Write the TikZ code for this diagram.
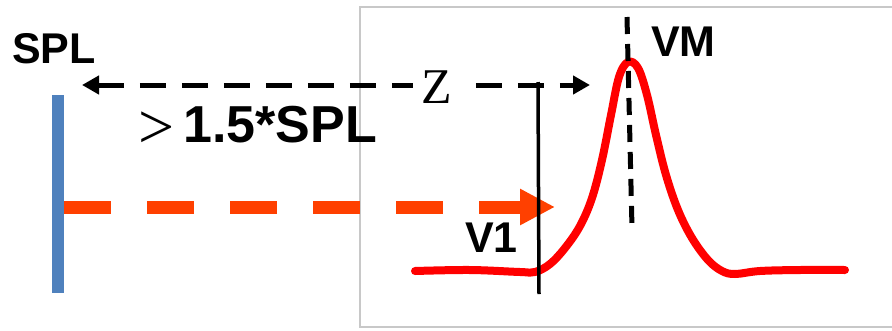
\documentclass[tikz,border=0pt]{standalone}
\usepackage{fontspec}
\setmainfont{Liberation Sans}
\newfontfamily\serifz{Liberation Serif}
\usetikzlibrary{arrows.meta}
\definecolor{splblue}{HTML}{4F81BD}
\definecolor{pulsered}{HTML}{FF0000}
\definecolor{beamorange}{HTML}{FF4000}
\definecolor{boxgray}{HTML}{C8C8C8}
\tikzset{
  blacktip/.tip={Triangle[length=17pt,width=18pt]},
  orangetip/.tip={Triangle[length=35pt,width=34pt]}
}
\begin{document}
\begin{tikzpicture}[x=1pt,y=-1pt,
  lbl/.style={font=\fontsize{43}{43}\selectfont\bfseries, inner sep=0pt, anchor=base west},
  biglbl/.style={font=\fontsize{52}{52}\selectfont\bfseries, inner sep=0pt, anchor=base west},
  seriflbl/.style={font=\serifz\fontsize{#1}{#1}\selectfont, inner sep=0pt, anchor=base west},
  blackdash/.style={black, line width=5pt, dash pattern=on 26pt off 16pt}]
\useasboundingbox (0,0) rectangle (892,330);
\clip (0,0) rectangle (892,330);
% frame
\draw[boxgray, line width=2pt] (360,7) rectangle (900,327);
% coordinates
\coordinate (blueTop) at (58,95);
\coordinate (blueBot) at (58,293);
\coordinate (beamStart) at (64,207);
\coordinate (beamEnd) at (555,207);
\coordinate (zLeft) at (82,85);
\coordinate (zRight) at (590,85);
\coordinate (vTop) at (538,82);
\coordinate (vBot) at (539,294);
\coordinate (mTop) at (627,17);
\coordinate (mBot) at (632,228);
% blue SPL line
\draw[splblue, line width=12pt] (blueTop) -- (blueBot);
% orange beam arrow
\draw[beamorange, line width=13pt, dash pattern=on 47pt off 36pt, -{orangetip}] (beamStart) -- (beamEnd);
% red pulse
\draw[pulsered, line width=8pt, line cap=round, line join=round]
  plot[smooth, tension=0.6] coordinates {(415,271) (470,270) (520,272) (535,272) (550,264) (565,248) (580,226) (592,198) (602,160) (611,115) (619,77) (628,62) (638,68) (647,95) (656,135) (666,175) (678,210) (692,238) (708,260) (722,271) (735,274) (760,271) (800,270) (845,270)};
% black lines
\draw[line width=3.5pt] (vTop) -- (vBot);
\draw[black, line width=5pt, dash pattern=on 17pt off 10pt] (mTop) -- (mBot);
% Z double arrow
\draw[blackdash, {blacktip}-{blacktip}] (zLeft) -- (zRight);
\node[seriflbl=50, fill=white, inner xsep=8pt] (z) at (413,103) {Z};
% labels
\node[lbl] (spl) at (12,63) {SPL};
\node[lbl] (vm) at (651,56) {VM};
\node[lbl] (v1) at (465,252) {V1};
\node[biglbl] (cond) at (183,142) {1.5*SPL};
\node[seriflbl=64] (gt) at (138,148) {>};
\end{tikzpicture}
\end{document}
